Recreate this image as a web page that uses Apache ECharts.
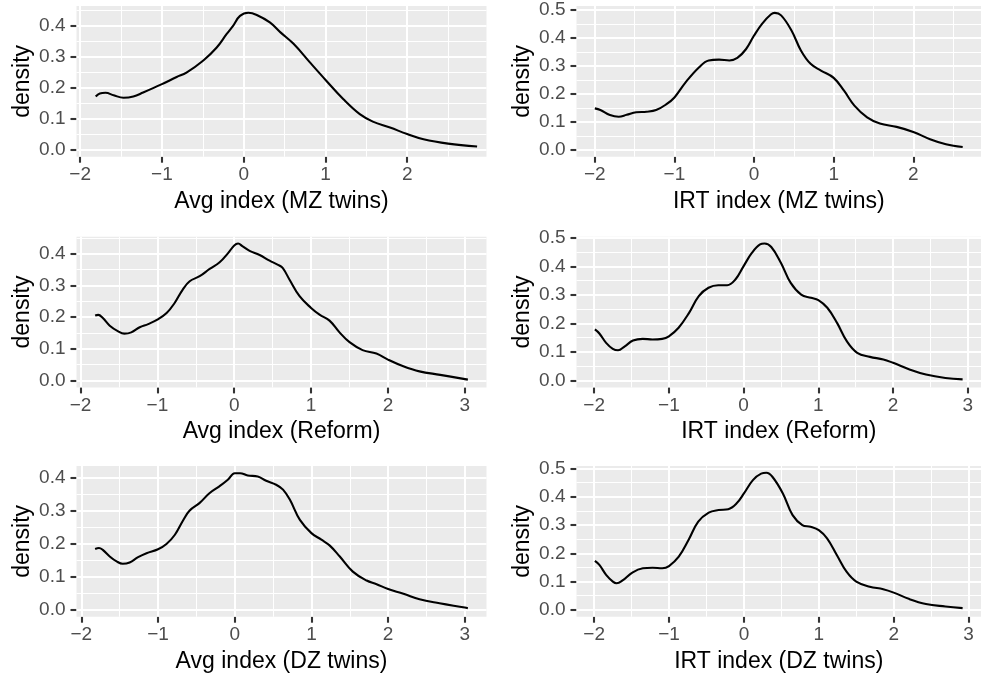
<!DOCTYPE html>
<html>
<head>
<meta charset="utf-8">
<script src="https://cdn.jsdelivr.net/npm/echarts@6.0.0/dist/echarts.min.js"></script>
<style>
html,body{margin:0;padding:0;background:#fff;}
#c{width:981px;height:676px;}
</style>
</head>
<body>
<div id="c"></div>
<script>
// ---------- data ----------
const avgMzX = [-1.81,-1.76,-1.69,-1.59,-1.47,-1.35,-1.23,-1.0,-0.82,-0.70,-0.49,-0.33,-0.21,-0.13,-0.045,0.057,0.16,0.32,0.45,0.61,0.81,1.01,1.22,1.42,1.58,1.79,2.0,2.2,2.5,2.855];
const avgMzY = [0.172,0.182,0.184,0.176,0.168,0.172,0.185,0.212,0.235,0.249,0.289,0.33,0.373,0.40,0.432,0.442,0.435,0.411,0.379,0.342,0.282,0.223,0.163,0.115,0.091,0.072,0.051,0.034,0.020,0.011];

const irtMzX = [-2.0,-1.93,-1.81,-1.70,-1.60,-1.48,-1.35,-1.23,-1.10,-1.0,-0.86,-0.69,-0.57,-0.44,-0.31,-0.21,-0.10,0.0,0.10,0.21,0.26,0.34,0.47,0.59,0.71,0.84,1.0,1.13,1.26,1.42,1.58,1.79,2.0,2.21,2.41,2.62];
const irtMzY = [0.148,0.142,0.124,0.118,0.125,0.134,0.136,0.142,0.163,0.187,0.241,0.295,0.319,0.322,0.319,0.328,0.360,0.408,0.450,0.483,0.489,0.480,0.426,0.354,0.307,0.283,0.257,0.211,0.158,0.116,0.094,0.082,0.064,0.038,0.020,0.010];

const avgRefX = [-1.81,-1.77,-1.71,-1.62,-1.51,-1.43,-1.34,-1.23,-1.12,-1.0,-0.88,-0.78,-0.67,-0.58,-0.45,-0.32,-0.19,-0.08,0.0,0.05,0.11,0.20,0.33,0.46,0.57,0.63,0.72,0.85,1.0,1.11,1.24,1.37,1.50,1.67,1.85,2.0,2.2,2.41,2.68,3.04];
const avgRefY = [0.205,0.207,0.197,0.173,0.155,0.148,0.152,0.168,0.178,0.192,0.213,0.243,0.287,0.313,0.329,0.352,0.373,0.402,0.426,0.432,0.423,0.409,0.396,0.378,0.365,0.355,0.318,0.266,0.229,0.208,0.189,0.152,0.121,0.096,0.085,0.066,0.045,0.029,0.018,0.003];

const irtRefX = [-1.99,-1.93,-1.84,-1.75,-1.68,-1.59,-1.48,-1.35,-1.22,-1.09,-1.0,-0.87,-0.73,-0.60,-0.47,-0.34,-0.22,-0.11,0.0,0.11,0.22,0.28,0.37,0.50,0.63,0.77,0.90,1.0,1.12,1.25,1.38,1.52,1.69,1.87,2.0,2.22,2.44,2.70,2.93];
const irtRefY = [0.179,0.165,0.132,0.111,0.106,0.120,0.140,0.146,0.144,0.146,0.155,0.185,0.237,0.296,0.325,0.334,0.334,0.354,0.401,0.447,0.477,0.480,0.468,0.412,0.342,0.301,0.290,0.282,0.255,0.202,0.138,0.097,0.083,0.074,0.062,0.039,0.021,0.009,0.004];

const avgDzX = [-1.82,-1.77,-1.72,-1.63,-1.54,-1.46,-1.37,-1.26,-1.15,-1.0,-0.89,-0.78,-0.67,-0.59,-0.46,-0.33,-0.20,-0.09,0.0,0.07,0.17,0.30,0.41,0.54,0.63,0.72,0.85,1.0,1.13,1.24,1.37,1.54,1.72,1.85,2.0,2.2,2.41,2.67,3.0,3.04];
const avgDzY = [0.185,0.188,0.182,0.162,0.147,0.140,0.144,0.160,0.172,0.184,0.200,0.228,0.273,0.301,0.324,0.354,0.375,0.395,0.415,0.415,0.408,0.405,0.392,0.380,0.365,0.334,0.273,0.233,0.213,0.195,0.162,0.116,0.089,0.078,0.063,0.049,0.032,0.020,0.007,0.005];

const irtDzX = [-1.99,-1.93,-1.84,-1.75,-1.70,-1.62,-1.49,-1.35,-1.22,-1.09,-1.0,-0.87,-0.74,-0.61,-0.47,-0.34,-0.21,-0.10,0.0,0.12,0.23,0.30,0.38,0.52,0.65,0.78,0.89,1.0,1.11,1.24,1.37,1.50,1.68,1.86,2.0,2.21,2.43,2.69,2.92];
const irtDzY = [0.173,0.159,0.124,0.100,0.094,0.104,0.132,0.147,0.149,0.147,0.155,0.188,0.247,0.312,0.344,0.353,0.356,0.376,0.412,0.459,0.482,0.485,0.471,0.412,0.335,0.300,0.294,0.282,0.253,0.194,0.135,0.100,0.082,0.073,0.061,0.038,0.021,0.012,0.006];

// tick labels
const xTicks2 = [-2,-1,0,1,2];
const xTicks3 = [-2,-1,0,1,2,3];
const xMinor = [-1.5,-0.5,0.5,1.5,2.5];
const yTicks4 = [0,0.1,0.2,0.3,0.4];
const yTicks5 = [0,0.1,0.2,0.3,0.4,0.5];
const yMinor4 = [0.05,0.15,0.25,0.35,0.45];
const yMinor5 = [0.05,0.15,0.25,0.35,0.45];

const titles = ['Avg index (MZ twins)','IRT index (MZ twins)','Avg index (Reform)','IRT index (Reform)','Avg index (DZ twins)','IRT index (DZ twins)'];

// ---------- layout ----------
const FONT = 'Liberation Sans, Arial, Helvetica, sans-serif';
const panels = [
  {x: avgMzX, y: avgMzY, xt: xTicks2, yt: yTicks4, ym: yMinor4, xr: [-2.045, 2.97], yr: [-0.0221, 0.464], left: 76.5, top: 6, width: 410},
  {x: irtMzX, y: irtMzY, xt: xTicks2, yt: yTicks5, ym: yMinor5, xr: [-2.23, 2.85], yr: [-0.0245, 0.5135], left: 576.5, top: 6, width: 409},
  {x: avgRefX, y: avgRefY, xt: xTicks3, yt: yTicks4, ym: yMinor4, xr: [-2.0525, 3.2825], yr: [-0.0216, 0.4536], left: 76.5, top: 236.7, width: 410},
  {x: irtRefX, y: irtRefY, xt: xTicks3, yt: yTicks5, ym: yMinor5, xr: [-2.236, 3.176], yr: [-0.024, 0.504], left: 576.5, top: 236.7, width: 409},
  {x: avgDzX, y: avgDzY, xt: xTicks3, yt: yTicks4, ym: yMinor4, xr: [-2.063, 3.283], yr: [-0.0208, 0.4368], left: 76.5, top: 466, width: 410},
  {x: irtDzX, y: irtDzY, xt: xTicks3, yt: yTicks5, ym: yMinor5, xr: [-2.2355, 3.1655], yr: [-0.02425, 0.509], left: 576.5, top: 466, width: 409}
];
const PH = 150.7;

const inRange = (v, r) => v > r[0] && v < r[1];
const fmtX = v => (v < 0 ? '\u2212' + (-v) : String(v));
const fmtY = v => v.toFixed(1);

const grids = [], xAxes = [], yAxes = [], series = [];
panels.forEach((p, i) => {
  grids.push({left: p.left, top: p.top, width: p.width, height: PH, show: true, backgroundColor: '#EBEBEB', borderWidth: 0, containLabel: false});
  xAxes.push({
    gridIndex: i, type: 'value', min: p.xr[0], max: p.xr[1],
    axisLine: {show: false, onZero: false},
    splitLine: {show: false},
    axisTick: {show: true, customValues: p.xt, length: 6, lineStyle: {color: '#333333', width: 2.1}},
    axisLabel: {customValues: p.xt, formatter: fmtX, color: '#4D4D4D', fontSize: 19, fontFamily: FONT, margin: 9},
    name: titles[i], nameLocation: 'middle', nameGap: 33,
    nameTextStyle: {color: '#000', fontSize: 23, fontFamily: FONT}
  });
  yAxes.push({
    gridIndex: i, type: 'value', min: p.yr[0], max: p.yr[1],
    axisLine: {show: false, onZero: false},
    splitLine: {show: false},
    axisTick: {show: true, customValues: p.yt, length: 6, lineStyle: {color: '#333333', width: 2.1}},
    axisLabel: {customValues: p.yt, formatter: fmtY, color: '#4D4D4D', fontSize: 19, fontFamily: FONT, margin: 11},
    name: 'density', nameLocation: 'middle', nameGap: 42,
    nameTextStyle: {color: '#000', fontSize: 23, fontFamily: FONT}
  });
  const ml = [];
  xMinor.filter(v => inRange(v, p.xr)).forEach(v => ml.push({xAxis: v, lineStyle: {width: 1.1}}));
  p.ym.filter(v => inRange(v, p.yr)).forEach(v => ml.push({yAxis: v, lineStyle: {width: 1.1}}));
  p.xt.filter(v => inRange(v, p.xr)).forEach(v => ml.push({xAxis: v, lineStyle: {width: 2.1}}));
  p.yt.filter(v => inRange(v, p.yr)).forEach(v => ml.push({yAxis: v, lineStyle: {width: 2.1}}));
  series.push({
    type: 'line', xAxisIndex: i, yAxisIndex: i, data: [], z: 1, silent: true, showSymbol: false,
    markLine: {z: 1, silent: true, symbol: ['none', 'none'], label: {show: false}, animation: false,
      lineStyle: {color: '#FFFFFF', type: 'solid', opacity: 1}, emphasis: {disabled: true}, data: ml}
  });
  series.push({
    type: 'line', xAxisIndex: i, yAxisIndex: i, z: 10, silent: true,
    data: p.x.map((v, k) => [v, p.y[k]]),
    showSymbol: false, smooth: 0.4,
    lineStyle: {color: '#000000', width: 2.1}
  });
});

const chart = echarts.init(document.getElementById('c'), null, {renderer: 'canvas'});
chart.setOption({animation: false, backgroundColor: '#FFFFFF', grid: grids, xAxis: xAxes, yAxis: yAxes, series: series});
</script>
</body>
</html>
